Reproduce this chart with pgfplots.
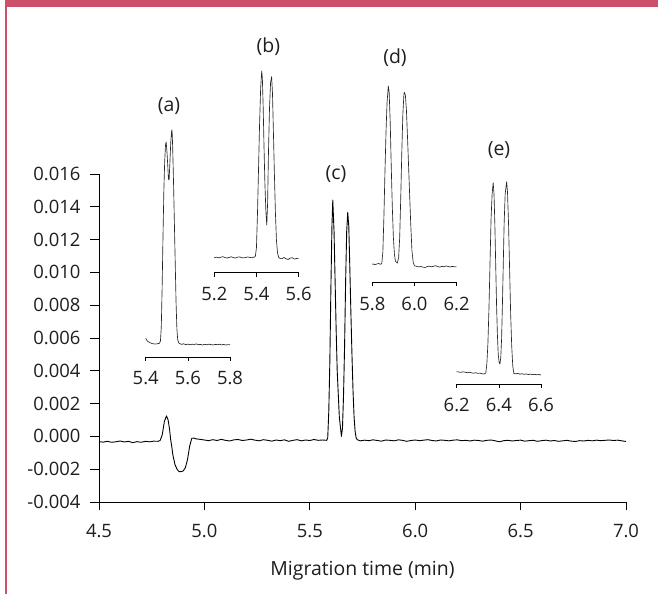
\documentclass[border=0pt]{standalone}
\usepackage{fontspec}
\setmainfont{Open Sans}
\usepackage{pgfplots}
\pgfplotsset{compat=1.18}
\definecolor{hdr}{HTML}{CD506A}
\definecolor{txt}{HTML}{1E1E1E}
\newcommand{\tfont}{\fontsize{18.5}{22}\selectfont}
\newcommand{\lfont}{\fontsize{19.5}{23}\selectfont}
\pgfplotsset{
  inset/.style={scale only axis, width=84.3bp, axis x line*=bottom, hide y axis,
    ymin=0, tick align=outside, major tick length=4bp,
    x axis line style={line width=0.7bp, black},
    xtick style={line width=0.7bp, black},
    xticklabel style={font=\tfont, text=txt, yshift=-7bp, /pgf/number format/.cd, fixed, fixed zerofill, precision=1, assume math mode=true},
    clip=false},
  trace/.style={black!85, line width=0.65bp, line join=round}
}
\begin{document}
\begin{tikzpicture}
\path[use as bounding box, fill=white] (0,0) rectangle (658bp,594bp);
\fill[hdr] (5bp,586.7bp) rectangle (658bp,594bp);
\fill[hdr] (5bp,0bp) rectangle (7.3bp,594bp);

\begin{axis}[at={(99bp,92bp)}, anchor=south west, scale only axis,
  width=527bp, height=328bp,
  xmin=4.5, xmax=7.0, ymin=-0.004, ymax=0.016,
  axis x line*=bottom, axis y line*=left,
  axis line style={line width=0.8bp, black},
  tick align=outside, major tick length=8.5bp,
  tick style={line width=0.8bp, black},
  xtick={4.5,5.0,5.5,6.0,6.5,7.0},
  ytick={-0.004,-0.002,0,0.002,0.004,0.006,0.008,0.010,0.012,0.014,0.016},
  scaled y ticks=false, scaled x ticks=false,
  xticklabel style={font=\tfont, text=txt, yshift=-10bp, /pgf/number format/.cd, fixed, fixed zerofill, precision=1, assume math mode=true},
  yticklabel style={font=\tfont, text=txt, xshift=-6.5bp, /pgf/number format/.cd, fixed, fixed zerofill, precision=3, assume math mode=true},
  xlabel={Migration time (min)},
  xlabel style={font=\lfont, text=txt, at={(axis description cs:0.5,0)}, anchor=base, yshift=-73bp},
  clip=false]
\addplot[black, line width=0.9bp, line join=round] coordinates {
(4.50,-0.00032)(4.52,-0.00035)(4.54,-0.00030)(4.56,-0.00036)(4.58,-0.00033)(4.60,-0.00028)
(4.62,-0.00034)(4.64,-0.00030)(4.66,-0.00038)(4.68,-0.00032)(4.70,-0.00036)(4.72,-0.00030)
(4.74,-0.00033)(4.76,-0.00029)(4.78,-0.00030)(4.79,-0.00025)(4.80,0.0001)(4.805,0.0005)
(4.81,0.0009)(4.82,0.00125)(4.828,0.0010)(4.835,0.0004)(4.84,-0.0002)(4.845,-0.0006)
(4.85,-0.0011)(4.86,-0.0017)(4.87,-0.0020)(4.88,-0.00215)(4.89,-0.00215)(4.90,-0.0021)
(4.91,-0.0019)(4.92,-0.0014)(4.93,-0.0006)(4.94,-0.00012)(4.95,-0.00010)(4.96,-0.00015)
(4.98,-0.00018)
(5.00,-0.00022)(5.02,-0.00026)(5.04,-0.00020)(5.06,-0.00025)(5.08,-0.00018)(5.10,-0.00024)
(5.12,-0.00028)(5.14,-0.00021)(5.16,-0.00019)(5.18,-0.00025)(5.20,-0.00022)(5.22,-0.00017)
(5.24,-0.00023)(5.26,-0.00027)(5.28,-0.00020)(5.30,-0.00024)(5.32,-0.00029)(5.34,-0.00022)
(5.36,-0.00026)(5.38,-0.00021)(5.40,-0.00030)(5.42,-0.00024)(5.44,-0.00020)(5.46,-0.00027)
(5.48,-0.00022)(5.50,-0.00025)(5.52,-0.00019)(5.54,-0.00024)(5.56,-0.00022)(5.58,-0.00024)
(5.585,-0.0001)(5.59,0.0015)(5.595,0.0045)(5.60,0.0090)(5.605,0.0128)(5.609,0.01441)
(5.615,0.0125)(5.62,0.0095)(5.625,0.0065)(5.63,0.0040)(5.64,0.0012)(5.65,0.0000)
(5.655,0.0005)(5.66,0.0025)(5.665,0.0055)(5.67,0.0095)(5.675,0.0125)(5.68,0.01366)
(5.685,0.0128)(5.69,0.0102)(5.695,0.0075)(5.70,0.0050)(5.705,0.0028)(5.71,0.0012)
(5.715,0.0003)(5.72,-0.0001)(5.725,-0.0002)
(5.74,-0.00027)(5.76,-0.00023)(5.78,-0.00026)(5.80,-0.00021)(5.82,-0.00025)(5.84,-0.00029)
(5.86,-0.00022)(5.88,-0.00024)(5.90,-0.00027)(5.92,-0.00021)(5.94,-0.00024)(5.96,-0.00030)
(5.98,-0.00025)(6.00,-0.00022)(6.02,-0.00026)(6.04,-0.00023)(6.06,-0.00020)(6.08,-0.00025)
(6.10,-0.00028)(6.12,-0.00022)(6.14,-0.00024)(6.16,-0.00027)(6.18,-0.00023)(6.20,-0.00021)
(6.22,-0.00026)(6.24,-0.00024)(6.26,-0.00028)(6.28,-0.00023)(6.30,-0.00025)(6.32,-0.00029)
(6.34,-0.00024)(6.36,-0.00022)(6.38,-0.00027)(6.40,-0.00033)(6.42,-0.00026)(6.44,-0.00024)
(6.46,-0.00028)(6.48,-0.00025)(6.50,-0.00023)(6.52,-0.00029)(6.54,-0.00026)(6.56,-0.00024)
(6.58,-0.00030)(6.60,-0.00026)(6.62,-0.00023)(6.64,-0.00028)(6.66,-0.00025)(6.68,-0.00030)
(6.70,-0.00027)(6.72,-0.00024)(6.74,-0.00029)(6.76,-0.00031)(6.78,-0.00026)(6.80,-0.00028)
(6.82,-0.00024)(6.84,-0.00027)(6.86,-0.00023)(6.88,-0.00026)(6.90,-0.00024)(6.92,-0.00022)
(6.94,-0.00025)(6.96,-0.00023)(6.98,-0.00027)(7.00,-0.00031)
};
\end{axis}

% inset (a)
\begin{axis}[inset, at={(145.7bp,237bp)}, anchor=south west, height=240bp, ymax=240,
  xmin=5.4, xmax=5.8, xtick={5.4,5.6,5.8}]
\addplot[trace] coordinates {
(5.400,18.7)(5.405,16.8)(5.410,15.6)(5.420,14.4)(5.430,13.4)(5.444,13.0)(5.455,13.2)(5.465,13.7)
(5.470,16)(5.474,30)(5.478,70)(5.482,120)(5.486,165)(5.490,195)(5.494,212)(5.497,215)
(5.501,205)(5.505,190)(5.508,178)(5.511,177)(5.515,195)(5.519,215)(5.523,226)(5.525,227)
(5.528,210)(5.532,175)(5.536,135)(5.540,95)(5.544,55)(5.548,28)(5.552,17)(5.558,13.7)
(5.57,12.6)(5.58,13.2)(5.59,12.4)(5.60,12.9)(5.61,12.2)(5.62,12.8)(5.63,12.5)(5.64,13.1)
(5.65,12.3)(5.66,12.6)(5.67,12.0)(5.68,12.7)(5.69,12.2)(5.70,12.8)(5.71,12.4)(5.72,12.0)
(5.73,12.6)(5.74,12.3)(5.75,12.8)(5.76,12.1)(5.77,12.5)(5.78,12.0)(5.79,12.4)(5.80,12.2)
};
\end{axis}

% inset (b)
\begin{axis}[inset, at={(214.3bp,321.3bp)}, anchor=south west, height=220bp, ymax=220,
  xmin=5.2, xmax=5.6, xtick={5.2,5.4,5.6}]
\addplot[trace] coordinates {
(5.200,15.0)(5.21,15.6)(5.22,14.8)(5.23,15.4)(5.24,16.0)(5.25,15.2)(5.26,14.6)(5.27,15.3)
(5.28,15.9)(5.29,15.1)(5.30,14.7)(5.31,15.5)(5.32,15.8)(5.33,15.0)(5.34,14.8)(5.35,15.4)
(5.36,15.7)(5.37,15.2)(5.38,15.0)(5.39,15.6)(5.395,16.5)(5.400,25)(5.405,60)(5.410,105)
(5.415,150)(5.420,185)(5.425,201.7)(5.428,195)(5.432,165)(5.436,125)(5.440,90)(5.445,60)
(5.449,47.7)(5.453,70)(5.457,120)(5.462,165)(5.467,190)(5.472,196)(5.476,180)(5.480,145)
(5.485,100)(5.490,60)(5.495,32)(5.500,20)(5.505,15.5)(5.51,14.5)(5.52,13.8)(5.53,15.2)
(5.54,14.0)(5.55,13.2)(5.56,14.6)(5.57,15.0)(5.58,13.6)(5.59,14.2)(5.60,14.4)
};
\end{axis}

% inset (d)
\begin{axis}[inset, at={(372.3bp,311.7bp)}, anchor=south west, height=220bp, ymax=220,
  xmin=5.8, xmax=6.2, xtick={5.8,6.0,6.2}]
\addplot[trace] coordinates {
(5.800,18.0)(5.805,18.4)(5.81,17.6)(5.82,18.2)(5.83,18.8)(5.84,18.0)(5.845,19)(5.850,30)
(5.855,65)(5.860,110)(5.865,150)(5.870,180)(5.876,196.3)(5.880,190)(5.885,160)(5.890,115)
(5.895,75)(5.900,45)(5.905,28)(5.910,21)(5.919,19.3)(5.925,25)(5.930,45)(5.935,85)
(5.940,130)(5.945,168)(5.950,188)(5.952,190)(5.957,187)(5.962,172)(5.968,140)(5.975,100)
(5.982,60)(5.988,32)(5.994,20)(6.000,16.5)(6.01,16.0)(6.02,15.4)(6.03,15.8)(6.04,15.2)
(6.05,14.8)(6.06,15.6)(6.07,16.2)(6.08,15.5)(6.09,16.0)(6.10,16.6)(6.11,15.7)(6.12,15.2)
(6.13,16.0)(6.14,15.5)(6.15,16.4)(6.16,15.8)(6.17,15.3)(6.18,15.9)(6.19,15.5)(6.20,15.4)
};
\end{axis}

% inset (e)
\begin{axis}[inset, at={(456.7bp,210bp)}, anchor=south west, height=220bp, ymax=220,
  xmin=6.2, xmax=6.6, xtick={6.2,6.4,6.6}]
\addplot[trace] coordinates {
(6.200,12.3)(6.21,12.0)(6.22,11.6)(6.23,12.2)(6.24,11.8)(6.25,11.3)(6.26,11.7)(6.27,11.2)
(6.28,10.8)(6.29,11.3)(6.30,10.6)(6.31,10.9)(6.32,10.3)(6.33,10.0)(6.338,11)(6.343,20)
(6.348,40)(6.353,75)(6.358,120)(6.363,165)(6.368,190)(6.373,201.3)(6.377,190)(6.381,160)
(6.385,120)(6.389,80)(6.393,50)(6.397,30)(6.401,22)(6.405,20)(6.409,26)(6.413,45)
(6.417,80)(6.421,120)(6.425,160)(6.430,190)(6.437,202.3)(6.441,192)(6.446,160)(6.451,115)
(6.456,70)(6.461,38)(6.466,18)(6.471,10.7)(6.48,10.2)(6.49,10.6)(6.50,9.8)(6.51,10.3)
(6.52,9.6)(6.53,10.1)(6.54,9.5)(6.55,9.9)(6.56,9.3)(6.57,9.7)(6.58,9.2)(6.59,9.5)(6.60,9.0)
};
\end{axis}

\node[font=\lfont, text=txt] at (169bp,487.5bp) {(a)};
\node[font=\lfont, text=txt] at (268.3bp,547.3bp) {(b)};
\node[font=\lfont, text=txt] at (336bp,420bp) {(c)};
\node[font=\lfont, text=txt] at (395bp,536bp) {(d)};
\node[font=\lfont, text=txt] at (499bp,444bp) {(e)};
\end{tikzpicture}
\end{document}
